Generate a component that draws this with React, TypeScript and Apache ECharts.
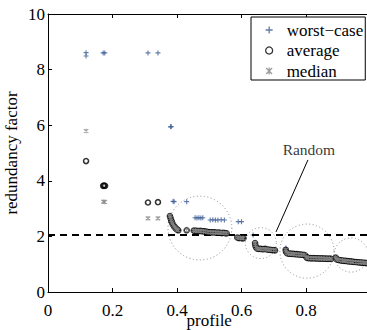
import React, { useEffect, useRef } from 'react';
import * as echarts from 'echarts';

const FONT = "'Liberation Serif', 'Times New Roman', serif";

const xTickValues = [0, 0.2, 0.4, 0.6, 0.8, 1];
const xTickLabels = ['0', '0.2', '0.4', '0.6', '0.8', ''];
const yTickValues = [0, 2, 4, 6, 8, 10];
const yTickLabels = ['0', '2', '4', '6', '8', '10'];

const seriesNames = ['worst\u2212case', 'average', 'median'];

const worstCase: number[][] = [
  [0.118, 8.49], [0.118, 8.61], [0.171, 8.6], [0.176, 8.6], [0.31, 8.6], [0.341, 8.6],
  [0.38, 5.94], [0.382, 5.95], [0.388, 3.26], [0.391, 3.25], [0.43, 3.25],
  [0.456, 2.67], [0.462, 2.66], [0.468, 2.67], [0.474, 2.66], [0.48, 2.67],
  [0.503, 2.59], [0.511, 2.6], [0.519, 2.59], [0.527, 2.59], [0.537, 2.6], [0.547, 2.59],
  [0.59, 2.53], [0.6, 2.53], [0.636, 2.05], [0.738, 1.58],
];

const averageSparse: number[][] = [
  [0.118, 4.71], [0.171, 3.82], [0.174, 3.83], [0.177, 3.82], [0.31, 3.22], [0.341, 3.23],
];

const averageDense: number[][] = [
  [0.378, 2.73], [0.38, 2.66], [0.382, 2.58], [0.384, 2.52], [0.386, 2.46], [0.389, 2.4],
  [0.392, 2.35], [0.395, 2.31], [0.398, 2.27], [0.401, 2.24], [0.404, 2.22],
  [0.43, 2.22],
  [0.452, 2.21], [0.457, 2.2], [0.462, 2.2], [0.467, 2.19], [0.472, 2.2], [0.477, 2.19],
  [0.482, 2.18], [0.487, 2.18],
  [0.494, 2.16], [0.499, 2.15], [0.504, 2.15], [0.509, 2.14], [0.514, 2.15], [0.519, 2.14],
  [0.524, 2.13], [0.529, 2.14], [0.534, 2.13], [0.539, 2.12], [0.544, 2.13], [0.549, 2.12],
  [0.554, 2.11],
  [0.587, 1.96], [0.592, 1.94], [0.597, 1.95], [0.602, 1.93], [0.606, 1.94],
  [0.642, 1.76], [0.643, 1.68], [0.645, 1.61], [0.649, 1.56], [0.654, 1.55], [0.659, 1.55],
  [0.664, 1.54], [0.669, 1.54], [0.674, 1.55], [0.679, 1.53], [0.684, 1.52], [0.689, 1.52],
  [0.694, 1.51], [0.699, 1.51], [0.704, 1.5],
  [0.737, 1.52], [0.738, 1.45], [0.741, 1.4], [0.746, 1.38], [0.751, 1.38], [0.756, 1.37],
  [0.761, 1.37], [0.766, 1.36], [0.771, 1.36], [0.776, 1.35], [0.781, 1.35], [0.786, 1.34],
  [0.791, 1.34], [0.796, 1.33],
  [0.801, 1.27], [0.803, 1.23], [0.808, 1.22], [0.813, 1.22], [0.818, 1.21], [0.823, 1.22],
  [0.828, 1.21], [0.833, 1.21], [0.838, 1.21], [0.843, 1.2], [0.848, 1.21], [0.853, 1.2],
  [0.858, 1.2], [0.863, 1.2], [0.868, 1.19], [0.873, 1.2], [0.878, 1.19],
  [0.892, 1.24], [0.894, 1.19], [0.898, 1.16], [0.903, 1.15], [0.908, 1.14], [0.913, 1.13],
  [0.918, 1.12], [0.923, 1.12], [0.928, 1.11], [0.933, 1.1], [0.938, 1.1], [0.943, 1.09],
  [0.948, 1.08], [0.953, 1.08], [0.958, 1.07], [0.963, 1.07], [0.968, 1.06], [0.973, 1.06],
  [0.978, 1.05], [0.983, 1.05], [0.988, 1.04], [0.993, 1.04], [0.998, 1.03],
];

const medianSparse: number[][] = [
  [0.118, 5.79], [0.172, 3.25], [0.176, 3.24], [0.31, 2.65], [0.341, 2.65],
];

// median coincides with the average in the dense part of the plot
const medianDense: number[][] = averageDense;

// dotted cluster circles: [center x, center y, radius in x-units]
const clusterCircles: number[][] = [
  [0.471, 2.3, 0.099],
  [0.66, 1.76, 0.048],
  [0.803, 1.47, 0.084],
  [0.94, 1.33, 0.053],
];

const randomLevel = 2.06;
const randomLabel = 'Random';
const randomLabelPos = [0.809, 5.11];
const arrowStart = [0.806, 4.75];
const arrowEnd = [0.707, 2.16];

const plusPath = 'path://M0,-1L0,1M-1,0L1,0';
const starPath = 'path://M-1,-1L1,1M-1,1L1,-1M0,-1.2L0,1.2';

export default function App() {
  const ref = useRef<HTMLDivElement>(null);

  useEffect(() => {
    document.body.style.margin = '0';
    if (!ref.current) return;
    const chart = echarts.init(ref.current, undefined, { renderer: 'svg' });

    const xFmt = (v: number) => {
      const i = xTickValues.findIndex((t) => Math.abs(t - v) < 1e-9);
      return i >= 0 ? xTickLabels[i] : '';
    };
    const yFmt = (v: number) => {
      const i = yTickValues.findIndex((t) => Math.abs(t - v) < 1e-9);
      return i >= 0 ? yTickLabels[i] : '';
    };

    const axisCommon = {
      axisLine: { show: true, lineStyle: { color: '#000', width: 1 } },
      axisTick: { show: true, inside: true, length: 4, lineStyle: { color: '#000', width: 1 } },
      splitLine: { show: false },
    };

    chart.setOption({
      animation: false,
      grid: {
        left: 48, top: 14, width: 322.5, height: 278,
        containLabel: false, outerBoundsMode: 'none',
      },
      legend: {
        orient: 'vertical',
        left: 251,
        top: 17,
        padding: [4.5, 2, 0.5, 14],
        itemGap: 3.5,
        itemWidth: 7,
        itemHeight: 7,
        backgroundColor: '#fff',
        borderColor: '#000',
        borderWidth: 1,
        borderRadius: 0,
        itemStyle: { borderWidth: 1.3 },
        textStyle: { fontSize: 17, fontFamily: FONT, color: '#000', lineHeight: 17, padding: [0, 0, 0, 9] },
        data: seriesNames,
        selectedMode: false,
      },
      xAxis: [
        {
          type: 'value', min: 0, max: 1, interval: 0.2, position: 'bottom',
          ...axisCommon,
          axisLabel: { formatter: xFmt, fontSize: 17, fontFamily: FONT, color: '#000', margin: 10 },
          name: 'profile', nameLocation: 'middle', nameGap: 20, nameMoveOverlap: false,
          nameTextStyle: { fontSize: 17, fontFamily: FONT, color: '#000' },
        },
        {
          type: 'value', min: 0, max: 1, interval: 0.2, position: 'top',
          ...axisCommon,
          axisLabel: { show: false },
        },
      ],
      yAxis: [
        {
          type: 'value', min: 0, max: 10, interval: 2,
          ...axisCommon,
          axisLabel: { formatter: yFmt, fontSize: 17, fontFamily: FONT, color: '#000', margin: 3 },
          name: 'redundancy factor', nameLocation: 'middle', nameGap: 28, nameMoveOverlap: false,
          nameTextStyle: { fontSize: 17, fontFamily: FONT, color: '#000' },
        },
      ],
      series: [
        {
          type: 'custom',
          name: 'clusters',
          silent: true,
          z: 1,
          data: clusterCircles,
          encode: { x: 0, y: 1 },
          renderItem: (_params: any, api: any) => {
            const c = api.coord([api.value(0), api.value(1)]);
            const r = api.size([api.value(2), 0])[0];
            return {
              type: 'circle',
              shape: { cx: c[0], cy: c[1], r },
              style: { fill: 'none', stroke: '#8c8c8c', lineWidth: 1, lineDash: [1, 2.5] },
            };
          },
        },
        {
          type: 'scatter',
          name: 'randomLine',
          silent: true,
          data: [],
          z: 2,
          markLine: {
            silent: true,
            symbol: ['none', 'none'],
            label: { show: false },
            lineStyle: { color: '#000', width: 1.8, type: [7, 5] },
            data: [{ yAxis: randomLevel }],
          },
        },
        {
          type: 'scatter',
          name: seriesNames[0],
          silent: true,
          z: 3,
          symbol: plusPath,
          symbolSize: 5,
          itemStyle: { color: '#3a5a92', borderColor: '#3a5a92', borderWidth: 1.1 },
          data: worstCase,
        },
        {
          type: 'scatter',
          name: seriesNames[1],
          silent: true,
          z: 4,
          symbol: 'circle',
          symbolSize: 5,
          itemStyle: { color: 'rgba(255,255,255,0)', borderColor: '#000', borderWidth: 1.6 },
          data: [...averageSparse, ...averageDense],
        },
        {
          type: 'scatter',
          name: seriesNames[2],
          silent: true,
          z: 5,
          symbol: starPath,
          symbolSize: 4.5,
          itemStyle: { color: '#858585', borderColor: '#858585', borderWidth: 1.1 },
          data: [...medianSparse, ...medianDense],
        },
        {
          type: 'scatter',
          name: 'annotation',
          silent: true,
          z: 6,
          symbolSize: 1,
          itemStyle: { color: 'rgba(0,0,0,0)' },
          label: {
            show: true, position: 'inside', formatter: randomLabel,
            fontSize: 15.5, fontFamily: FONT, color: '#000',
          },
          data: [randomLabelPos],
          markLine: {
            silent: true,
            symbol: ['none', 'arrow'],
            symbolSize: [0, 9],
            label: { show: false },
            lineStyle: { color: '#000', width: 1, type: 'solid' },
            data: [[{ coord: arrowStart }, { coord: arrowEnd }]],
          },
        },
      ],
    });

    return () => chart.dispose();
  }, []);

  return <div ref={ref} style={{ width: 367, height: 330 }} />;
}
